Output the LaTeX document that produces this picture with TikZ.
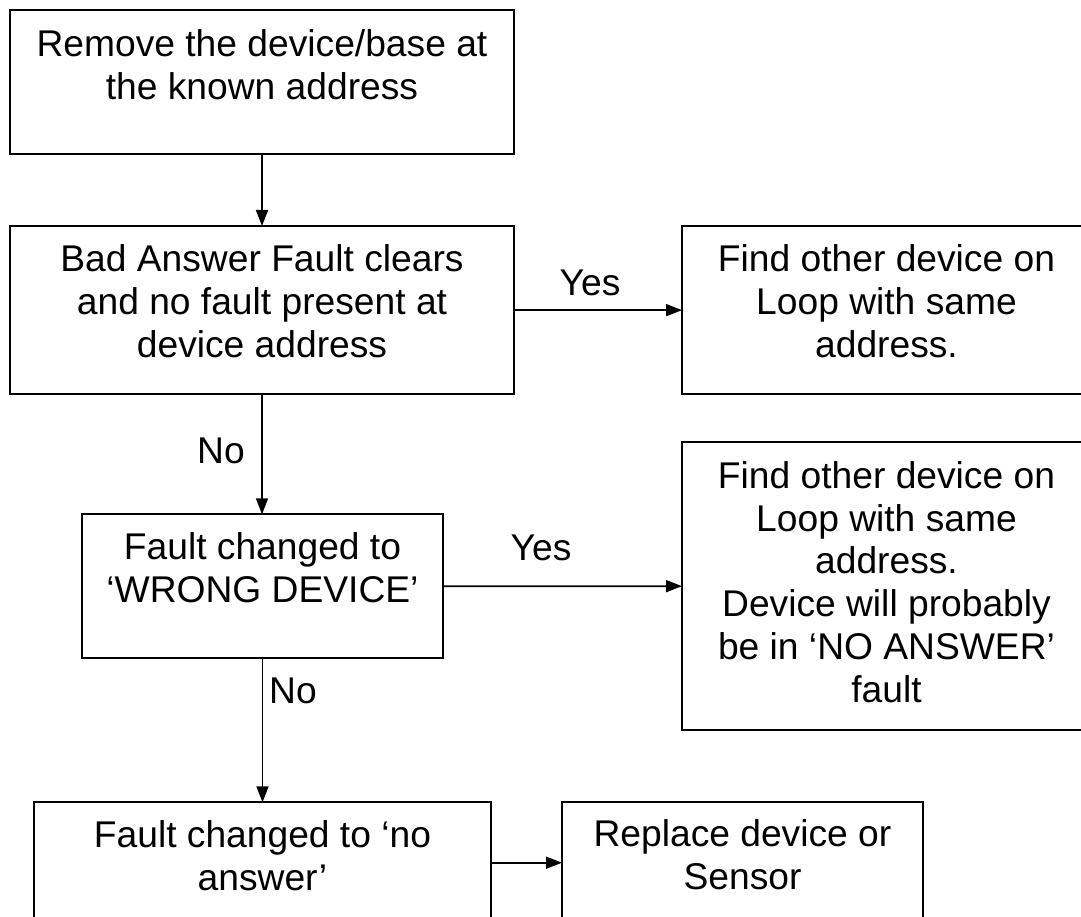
\documentclass[tikz,border=0pt]{standalone}
\usepackage{fontspec}
\setmainfont{Liberation Sans}
\usetikzlibrary{arrows.meta}
\newcommand\firststrut{\rule{0pt}{28pt}}
\begin{document}
\begin{tikzpicture}[x=1pt,y=-1pt,
  box/.style={draw, line width=1.8pt, rectangle, inner sep=0pt, outer sep=0pt},
  txt/.style={align=center, inner sep=0pt, anchor=north, font=\fontsize{37.2}{42.7}\selectfont},
  lbl/.style={inner sep=0pt, anchor=base, font=\fontsize{37.2}{42.7}\selectfont},
  arr/.style={line width=1.7pt, -{Triangle[length=16pt,width=12pt]}}]
\useasboundingbox (0,0) rectangle (1081,917);
\fill[white] (0,0) rectangle (1081,917);
\clip (0,0) rectangle (1081,917);

% boxes
\node[box, minimum width=504pt, minimum height=144pt]   (b1) at (262,82.3) {};
\node[box, minimum width=504pt, minimum height=168.3pt] (b2) at (262,310.15) {};
\node[box, minimum width=409pt, minimum height=168.3pt] (b3) at (886.5,310.15) {};
\node[box, minimum width=361pt, minimum height=144pt]   (b4) at (262.5,586.3) {};
\node[box, minimum width=409pt, minimum height=287.7pt] (b5) at (886.5,586.15) {};
\node[box, minimum width=457pt, minimum height=120.8pt] (b6) at (262.5,862.7) {};
\node[box, minimum width=361pt, minimum height=120.8pt] (b7) at (742.5,862.7) {};

% texts
\node[txt] (t1) at ([yshift=-18pt]b1.north) {\firststrut Remove the device/base at\\the known address};
\node[txt] (t2) at ([yshift=-17.7pt]b2.north) {\firststrut Bad Answer Fault clears\\and no fault present at\\device address};
\node[txt] (t3) at ([yshift=-17.7pt]b3.north) {\firststrut Find other device on\\Loop with same\\address.};
\node[txt] (t4) at ([yshift=-17pt]b4.north) {\firststrut Fault changed to\\‘WRONG DEVICE’};
\node[txt] (t5) at ([yshift=-18pt]b5.north) {\firststrut Find other device on\\Loop with same\\address.\\Device will probably\\be in ‘NO ANSWER’\\fault};
\node[txt] (t6) at ([yshift=-17.4pt]b6.north) {\firststrut Fault changed to ‘no\\answer’};
\node[txt] (t7) at ([yshift=-16.4pt]b7.north) {\firststrut Replace device or\\Sensor};

% connectors
\draw[arr] (b1.south) -- (b2.north);
\draw[arr] (b2.east) -- (b3.west);
\draw[arr] (b2.south) -- (b2.south |- b4.north);
\draw[arr] (b4.east) -- (b5.west);
\draw[arr] (b4.south) -- (b6.north);
\draw[arr] (b6.east) -- (b7.west);

% labels
\node[lbl] (yes1) at (590,295) {Yes};
\node[lbl] (yes2) at (541,560) {Yes};
\node[lbl] (no1) at (221,463) {No};
\node[lbl] (no2) at (293,703) {No};
\end{tikzpicture}
\end{document}
